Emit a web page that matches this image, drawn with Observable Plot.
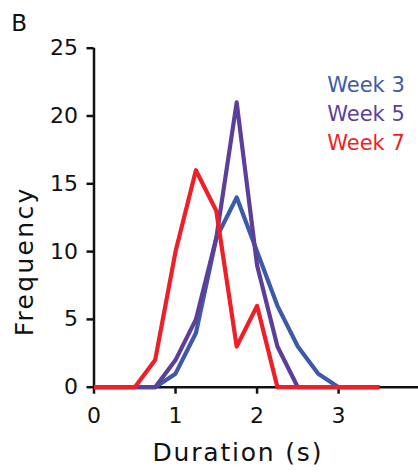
<!DOCTYPE html>
<html>
<head>
<meta charset="utf-8">
<script src="https://cdn.jsdelivr.net/npm/d3@7"></script>
<script src="https://cdn.jsdelivr.net/npm/@observablehq/plot@0.6"></script>
<style>
  html, body { margin: 0; padding: 0; background: #fff; }
  #chart { width: 418px; height: 475px; }
</style>
</head>
<body>
<div id="chart"></div>
<script>
// ---- data ----
const durations = [0, 0.25, 0.5, 0.75, 1, 1.25, 1.5, 1.75, 2, 2.25, 2.5, 2.75, 3, 3.25, 3.5];
const week3 = [0, 0, 0, 0, 1, 4, 11, 14, 10, 6, 3, 1, 0, 0, 0];
const week5 = [0, 0, 0, 0, 2, 5, 11, 21, 9, 3, 0, 0, 0, 0, 0];
const week7 = [0, 0, 0, 2, 10, 16, 13, 3, 6, 0, 0, 0, 0, 0, 0];
const seriesNames = ["Week 3", "Week 5", "Week 7"];
const seriesColors = ["#3d5aa9", "#5c3f9b", "#ee1f26"];
const xTicks = [0, 1, 2, 3];
const yTicks = [0, 5, 10, 15, 20, 25];
const xLabel = "Duration (s)";
const yLabel = "Frequency";
const panelLabel = "B";

const seriesValues = [week3, week5, week7];
const rows = [];
seriesNames.forEach((name, s) => {
  durations.forEach((d, i) => rows.push({series: name, duration: d, frequency: seriesValues[s][i]}));
});

const font = "DejaVu Sans, Verdana, sans-serif";
const legendDy = [44, 72.3, 101.6];

const plot = Plot.plot({
  width: 418,
  height: 475,
  marginLeft: 93.5,
  marginRight: 0,
  marginTop: 47.7,
  marginBottom: 88.3,
  style: {fontFamily: font, fontSize: "22px", color: "#111", background: "#fff"},
  x: {domain: [0, 3.98]},
  y: {domain: [0, 25]},
  color: {domain: seriesNames, range: seriesColors},
  marks: [
    Plot.axisX({ticks: xTicks, tickSize: 7, tickPadding: 13, strokeWidth: 2.5, fontSize: 22, label: null, tickFormat: d => String(d)}),
    Plot.axisY({ticks: yTicks, tickSize: 7, tickPadding: 9, strokeWidth: 2.5, fontSize: 22, label: null, tickFormat: d => String(d)}),
    Plot.ruleX([0], {stroke: "#111", strokeWidth: 2.5}),
    Plot.ruleY([0], {stroke: "#111", strokeWidth: 2.5}),
    ...seriesNames.map(name =>
      Plot.line(rows.filter(r => r.series === name), {
        x: "duration", y: "frequency", stroke: "series", strokeWidth: 4.2,
        strokeLinejoin: "round", strokeLinecap: "butt"
      })
    ),
    ...seriesNames.map((name, i) =>
      Plot.text([name], {
        text: d => d, fill: d => d, frameAnchor: "top-left", textAnchor: "start",
        lineAnchor: "bottom", dx: 233.2, dy: legendDy[i], fontSize: 21, fontFamily: font
      })
    ),
    Plot.text([xLabel], {
      text: d => d, frameAnchor: "bottom", textAnchor: "middle", lineAnchor: "bottom",
      dx: -18.4, dy: 73.3, fontSize: 25, fill: "#111", fontFamily: font
    }),
    Plot.text([yLabel], {
      text: d => d, frameAnchor: "left", textAnchor: "middle", lineAnchor: "bottom",
      rotate: -90, dx: -61.2, dy: 43.7, fontSize: 25, fill: "#111", fontFamily: font
    }),
    Plot.text([panelLabel], {
      text: d => d, frameAnchor: "top-left", textAnchor: "start", lineAnchor: "bottom",
      dx: -82.8, dy: -17.7, fontSize: 23, fill: "#111", fontFamily: font
    })
  ]
});

d3.select(plot).selectAll("text").filter(function () { return this.textContent === yLabel; })
  .style("letter-spacing", "2.3px");
d3.select(plot).selectAll("text").filter(function () { return this.textContent === xLabel; })
  .style("letter-spacing", "1.8px");

document.getElementById("chart").appendChild(plot);
</script>
</body>
</html>
